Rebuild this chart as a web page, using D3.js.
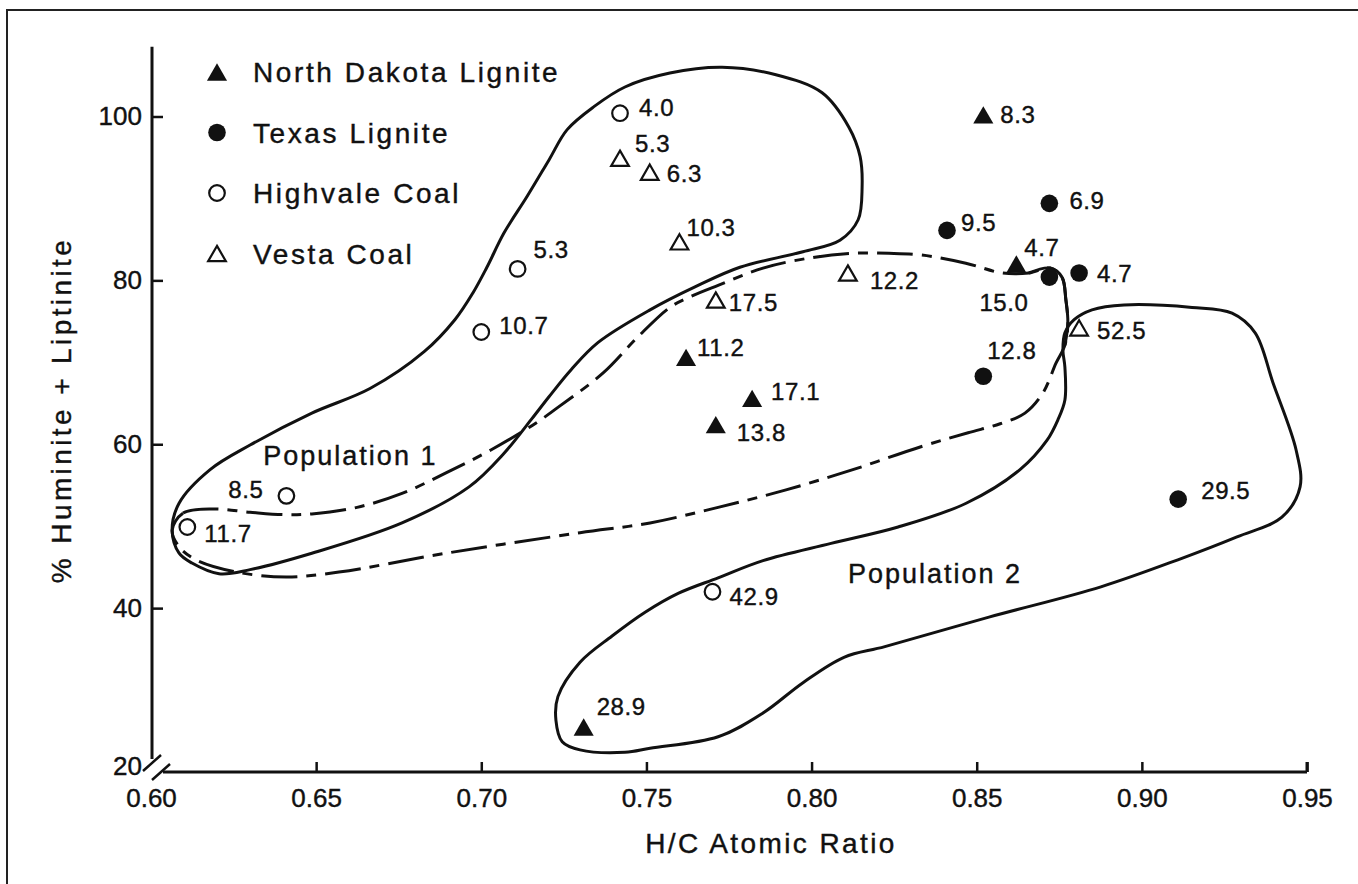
<!DOCTYPE html>
<html>
<head>
<meta charset="utf-8">
<script src="https://cdn.jsdelivr.net/npm/d3@7/dist/d3.min.js"></script>
<style>
  body { margin: 0; background: #fff; }
  svg { display: block; }
  text { font-family: "Liberation Sans", Arial, Helvetica, sans-serif; fill: #111; stroke: #111; stroke-width: 0.4px; }
</style>
</head>
<body>
<svg id="chart" width="1358" height="884"></svg>
<script>
// ---- Axis ticks ----
const hcTicks = [0.60, 0.65, 0.70, 0.75, 0.80, 0.85, 0.90, 0.95];
const hcTickLabels = ["0.60", "0.65", "0.70", "0.75", "0.80", "0.85", "0.90", "0.95"];
const pctTicks = [20, 40, 60, 80, 100];
const pctTickLabels = ["20", "40", "60", "80", "100"];

// ---- Series (H/C atomic ratio, % huminite + liptinite, sample label) ----
const seriesNames = ["North Dakota Lignite", "Texas Lignite", "Highvale Coal", "Vesta Coal"];

const northDakotaHC  = [0.852, 0.862, 0.762, 0.782, 0.771, 0.731];
const northDakotaPct = [100.2, 82.0, 70.6, 65.6, 62.4, 25.5];
const northDakotaLbl = ["8.3", "4.7", "11.2", "17.1", "13.8", "28.9"];

const texasHC  = [0.872, 0.841, 0.881, 0.872, 0.852, 0.911];
const texasPct = [89.4, 86.1, 80.9, 80.4, 68.3, 53.3];
const texasLbl = ["6.9", "9.5", "4.7", "15.0", "12.8", "29.5"];

const highvaleHC  = [0.742, 0.711, 0.700, 0.641, 0.611, 0.770];
const highvalePct = [100.4, 81.4, 73.7, 53.7, 49.9, 42.0];
const highvaleLbl = ["4.0", "5.3", "10.7", "8.5", "11.7", "42.9"];

const vestaHC  = [0.742, 0.751, 0.760, 0.811, 0.771, 0.881];
const vestaPct = [94.9, 93.2, 84.7, 80.9, 77.6, 74.2];
const vestaLbl = ["5.3", "6.3", "10.3", "12.2", "17.5", "52.5"];

// ---- Population outlines (closed curves) ----
const pop1HC  = [0.6064,0.6085,0.6179,0.6300,0.6487,0.6663,0.6827,0.6920,0.6975,0.7017,0.7069,0.7138,0.7205,0.7260,0.7341,0.7435,0.7571,0.7729,0.7892,0.8032,0.8113,0.8147,0.8153,0.8141,0.8086,0.7974,0.7783,0.7647,0.7511,0.7353,0.7272,0.7205,0.7151,0.7069,0.6963,0.6760,0.6487,0.6300,0.6206,0.6124,0.6085];
const pop1Pct = [49.5,52.8,56.9,59.9,63.8,66.8,71.3,75.2,78.5,81.6,85.8,90.2,94.7,98.4,101.2,103.6,105.3,106.0,105.1,102.9,98.7,95.1,91.4,87.4,84.9,83.5,81.6,79.2,76.4,72.4,69.1,65.8,63.0,58.9,54.8,50.4,46.7,44.7,44.2,45.5,46.7];

const envelopeHC  = [0.6064,0.6097,0.6191,0.6300,0.6409,0.6487,0.6624,0.6760,0.6893,0.7029,0.7166,0.7232,0.7369,0.7474,0.7571,0.7632,0.7717,0.7853,0.7989,0.8116,0.8234,0.8331,0.8467,0.8577,0.8658,0.8722,0.8758,0.8770,0.8776,0.8767,0.8740,0.8701,0.8646,0.8571,0.8474,0.8331,0.8125,0.7920,0.7717,0.7511,0.7299,0.6893,0.6569,0.6409,0.6260,0.6136,0.6085];
const envelopePct = [49.5,51.6,52.1,51.7,51.4,51.5,52.3,54.0,56.5,59.3,62.6,64.5,68.7,73.1,76.7,78.0,79.4,81.5,82.7,83.3,83.3,83.1,82.1,80.9,80.9,81.5,80.4,77.6,74.8,72.1,69.9,66.3,63.8,62.5,61.4,59.7,56.9,54.4,52.3,50.4,49.2,46.7,44.4,43.8,44.4,45.9,47.5];
const envelopeSolidFrom = 24, envelopeSolidTo = 29;

const pop2HC  = [0.8767,0.8795,0.8849,0.8946,0.9152,0.9273,0.9343,0.9397,0.9467,0.9479,0.9424,0.9288,0.9109,0.8876,0.8537,0.8222,0.8098,0.7974,0.7853,0.7717,0.7511,0.7435,0.7299,0.7245,0.7226,0.7232,0.7299,0.7396,0.7496,0.7596,0.7717,0.7853,0.8059,0.8262,0.8468,0.8631,0.8713,0.8746,0.8767,0.8767,0.8761];
const pop2Pct = [73.6,75.2,76.4,77.0,76.7,76.0,73.6,67.5,59.3,54.8,51.1,48.7,45.9,42.6,38.9,35.3,34.0,30.9,27.2,24.3,22.9,22.4,22.7,23.7,26.3,29.2,33.4,36.6,39.5,41.8,43.7,45.8,47.9,49.9,52.8,56.9,60.5,63.0,65.4,69.4,71.5];

const populationNames = ["Population 1", "Population 2"];
const populationAnchorHC  = [0.634, 0.811];
const populationAnchorPct = [57.5, 43.1];

// ---- Layout: label offsets (px from marker centre to label left/middle) ----
const northDakotaOffsets = [[17, 0], [8, -17], [11, -10], [19, -7], [21, 8], [13, -21]];
const texasOffsets       = [[20, -3], [14, -8], [18, 0], [-70, 25], [4, -26], [23, -9]];
const highvaleOffsets    = [[19, -6], [16, -20], [18, -7], [-23, -6, "end"], [17, 6], [17, 5]];
const vestaOffsets       = [[15, -15], [17, 1], [7, -14], [22, 7], [13, 2], [18, 3]];

const ink = "#111";
const svg = d3.select("#chart");

const x = d3.scaleLinear().domain([0.60, 0.95]).range([151, 1307]);
const y = d3.scaleLinear().domain([20, 100]).range([772, 116.5]);

// Frame around the figure (top and left edges)
svg.append("path")
  .attr("d", "M7,884 L7,10 L1358,10")
  .attr("fill", "none").attr("stroke", "#222").attr("stroke-width", 2);

// ---- Axes ----
const xAxis = d3.axisBottom(x).tickValues(hcTicks)
  .tickFormat((d, i) => hcTickLabels[i]).tickSize(-10).tickPadding(17);
const gx = svg.append("g").attr("transform", `translate(0,${y(20)})`).call(xAxis);
gx.select(".domain").remove();
gx.selectAll(".tick line").attr("stroke", ink).attr("stroke-width", 2.5)
  .attr("display", d => d === 0.60 ? "none" : null);
gx.selectAll(".tick text").attr("font-size", 26).attr("fill", ink)
  .style("font-family", '"Liberation Sans", Arial, sans-serif');

const yAxis = d3.axisLeft(y).tickValues(pctTicks)
  .tickFormat((d, i) => pctTickLabels[i]).tickSize(-11).tickPadding(10);
const gy = svg.append("g").attr("transform", `translate(${x(0.60) + 1},0)`).call(yAxis);
gy.select(".domain").remove();
gy.selectAll(".tick line").attr("stroke", ink).attr("stroke-width", 2.5)
  .attr("display", d => d === 20 ? "none" : null);
gy.selectAll(".tick text").attr("font-size", 26).attr("fill", ink)
  .style("font-family", '"Liberation Sans", Arial, sans-serif');
gy.selectAll(".tick").filter(d => d === 20).select("text").attr("dy", "0.1em");

// Axis lines with a scale break at the origin
const ox = x(0.60) + 1, oy = y(20);
svg.append("line").attr("x1", ox).attr("x2", ox).attr("y1", y(108.5)).attr("y2", oy - 13)
  .attr("stroke", ink).attr("stroke-width", 3);
svg.append("line").attr("x1", ox + 11).attr("x2", x(0.95)).attr("y1", oy).attr("y2", oy)
  .attr("stroke", ink).attr("stroke-width", 3);
svg.append("line").attr("x1", x(0.95)).attr("x2", x(0.95)).attr("y1", oy).attr("y2", oy - 10)
  .attr("stroke", ink).attr("stroke-width", 3);
[[-9, -1], [0, 8]].forEach(([dx, dy]) => {
  svg.append("line")
    .attr("x1", ox + dx).attr("y1", oy + dy)
    .attr("x2", ox + dx + 18).attr("y2", oy + dy - 16)
    .attr("stroke", ink).attr("stroke-width", 2.5);
});

// Axis titles
svg.append("text")
  .attr("x", 771).attr("y", 853)
  .attr("text-anchor", "middle").attr("font-size", 28)
  .style("letter-spacing", "2.4px")
  .text("H/C Atomic Ratio");
svg.append("text")
  .attr("transform", "translate(71,410) rotate(-90)")
  .attr("text-anchor", "middle").attr("font-size", 28)
  .style("letter-spacing", "3.4px")
  .text("% Huminite + Liptinite");

// ---- Outlines ----
const toPts = (xs, ys) => xs.map((v, i) => [x(v), y(ys[i])]);
const closedLine = d3.line().curve(d3.curveCatmullRomClosed.alpha(0.5));
const openLine = d3.line().curve(d3.curveCatmullRom.alpha(0.5));

const envelopePts = toPts(envelopeHC, envelopePct);
svg.append("path").attr("d", closedLine(envelopePts))
  .attr("fill", "none").attr("stroke", ink).attr("stroke-width", 3)
  .attr("stroke-dasharray", "36 9 10 9");
svg.append("path").attr("d", openLine(envelopePts.slice(envelopeSolidFrom, envelopeSolidTo + 1)))
  .attr("fill", "none").attr("stroke", ink).attr("stroke-width", 3);

svg.append("path").attr("d", closedLine(toPts(pop1HC, pop1Pct)))
  .attr("fill", "none").attr("stroke", ink).attr("stroke-width", 3);
svg.append("path").attr("d", closedLine(toPts(pop2HC, pop2Pct)))
  .attr("fill", "none").attr("stroke", ink).attr("stroke-width", 3);

populationNames.forEach((name, i) => {
  svg.append("text")
    .attr("x", x(populationAnchorHC[i])).attr("y", y(populationAnchorPct[i]))
    .attr("font-size", 27).style("letter-spacing", "2px")
    .text(name);
});

// ---- Markers ----
const triangleType = {
  draw(ctx, size) {
    const s = Math.sqrt(size * 4 / Math.sqrt(3));
    const h = s * Math.sqrt(3) / 2;
    ctx.moveTo(0, -h / 2);
    ctx.lineTo(s / 2, h / 2);
    ctx.lineTo(-s / 2, h / 2);
    ctx.closePath();
  }
};
const markerStyles = [
  { kind: "tri", fill: ink, stroke: "none" },
  { kind: "dot", fill: ink, stroke: "none" },
  { kind: "dot", fill: "#fff", stroke: ink },
  { kind: "tri", fill: "#fff", stroke: ink }
];
function drawMarker(g, style, cx, cy) {
  if (style.kind === "tri") {
    const size = style.stroke === "none" ? 175 : 135;
    g.append("path").attr("d", d3.symbol(triangleType, size)())
      .attr("transform", `translate(${cx},${cy})`)
      .attr("fill", style.fill).attr("stroke", style.stroke).attr("stroke-width", 2.2)
      .attr("stroke-linejoin", "miter");
  } else {
    g.append("circle").attr("cx", cx).attr("cy", cy)
      .attr("r", style.stroke === "none" ? 8.8 : 7.8)
      .attr("fill", style.fill).attr("stroke", style.stroke).attr("stroke-width", 2.2);
  }
}

const seriesData = [
  [northDakotaHC, northDakotaPct, northDakotaLbl, northDakotaOffsets],
  [texasHC, texasPct, texasLbl, texasOffsets],
  [highvaleHC, highvalePct, highvaleLbl, highvaleOffsets],
  [vestaHC, vestaPct, vestaLbl, vestaOffsets]
];
const pointsG = svg.append("g");
seriesData.forEach(([hc, pct, lbl, off], s) => {
  hc.forEach((v, i) => {
    const cx = x(v), cy = y(pct[i]);
    drawMarker(pointsG, markerStyles[s], cx, cy);
    const [dx, dy, anchor] = off[i];
    pointsG.append("text")
      .attr("x", cx + dx).attr("y", cy + dy + 8.6)
      .attr("text-anchor", anchor || "start")
      .attr("font-size", 24).style("letter-spacing", "0.6px")
      .text(lbl[i]);
  });
});

// ---- Legend ----
const legend = svg.append("g");
seriesNames.forEach((name, i) => {
  const cy = 72 + i * 60.5;
  drawMarker(legend, markerStyles[i], 217, cy);
  legend.append("text")
    .attr("x", 253).attr("y", cy + 10)
    .attr("font-size", 28).style("letter-spacing", "2.6px")
    .text(name);
});
</script>
</body>
</html>
